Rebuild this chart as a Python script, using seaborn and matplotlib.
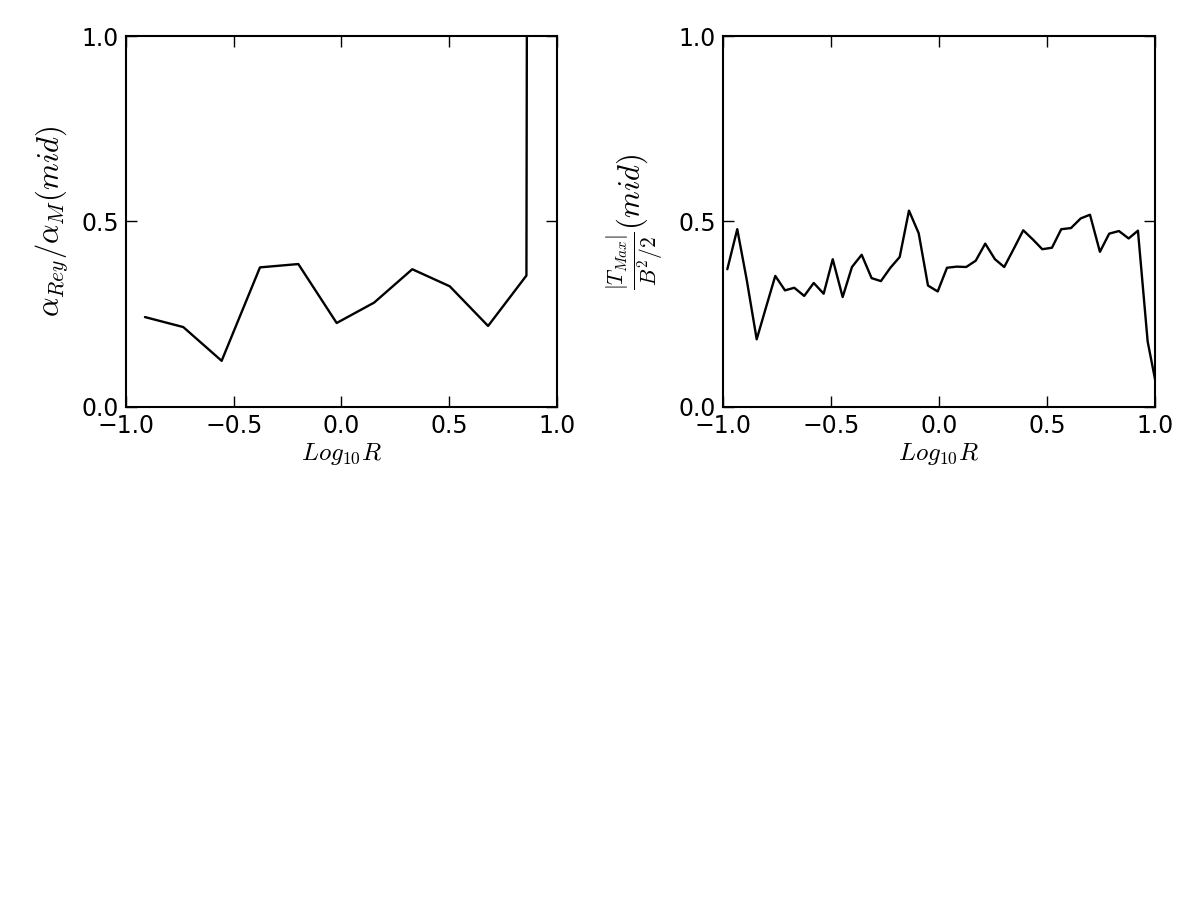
import matplotlib
matplotlib.use("Agg")
import matplotlib.pyplot as plt
import seaborn as sns
import pandas as pd

# Left panel: alpha_Rey / alpha_M (mid)
left_x = [-0.912, -0.734, -0.556, -0.378, -0.200, -0.022, 0.152, 0.329, 0.503, 0.681, 0.859, 1.037]
left_y = [0.242, 0.215, 0.124, 0.376, 0.385, 0.226, 0.281, 0.371, 0.325, 0.218, 0.354, 60.0]

# Right panel: |T_Max| / (B^2/2) (mid)
right_x = [-0.980, -0.934, -0.890, -0.844, -0.802, -0.758, -0.713, -0.670, -0.624, -0.580,
           -0.534, -0.492, -0.446, -0.403, -0.358, -0.312, -0.269, -0.225, -0.182, -0.139,
           -0.094, -0.051, -0.006, 0.037, 0.082, 0.126, 0.170, 0.214, 0.259, 0.302,
           0.346, 0.390, 0.435, 0.478, 0.523, 0.566, 0.611, 0.656, 0.699, 0.745,
           0.788, 0.833, 0.878, 0.921, 0.966, 1.010]
right_y = [0.371, 0.479, 0.342, 0.182, 0.266, 0.353, 0.314, 0.321, 0.299, 0.334,
           0.305, 0.398, 0.296, 0.377, 0.410, 0.347, 0.339, 0.375, 0.404, 0.529,
           0.468, 0.327, 0.311, 0.375, 0.378, 0.377, 0.394, 0.440, 0.398, 0.377,
           0.426, 0.476, 0.451, 0.425, 0.429, 0.479, 0.482, 0.508, 0.518, 0.418,
           0.467, 0.474, 0.454, 0.475, 0.176, 0.045]

x_ticks = [-1.0, -0.5, 0.0, 0.5, 1.0]
y_ticks = [0.0, 0.5, 1.0]
x_label = r"$Log_{10}R$"
left_ylabel = r"$\alpha_{Rey}/\alpha_M(mid)$"
right_ylabel = r"$\frac{|T_{Max}|}{B^2/2}(mid)$"

sns.set_style("ticks")
plt.rcParams["mathtext.fontset"] = "cm"
plt.rcParams["font.family"] = ["DejaVu Sans"]
plt.rcParams["text.color"] = "black"
plt.rcParams["axes.labelcolor"] = "black"
plt.rcParams["xtick.color"] = "black"
plt.rcParams["ytick.color"] = "black"

fig = plt.figure(figsize=(12, 9), dpi=100)
ax1 = fig.add_axes([0.105, 0.548, 0.359, 0.412])
ax2 = fig.add_axes([0.6025, 0.548, 0.36, 0.412])

df1 = pd.DataFrame({"x": left_x, "y": left_y})
df2 = pd.DataFrame({"x": right_x, "y": right_y})

sns.lineplot(data=df1, x="x", y="y", ax=ax1, color="black", linewidth=1.7, estimator=None)
sns.lineplot(data=df2, x="x", y="y", ax=ax2, color="black", linewidth=1.7, estimator=None)

for ax, yl, ysize, lp in [(ax1, left_ylabel, 22, 8), (ax2, right_ylabel, 22, 8)]:
    ax.set_xlim(-1.0, 1.0)
    ax.set_ylim(0.0, 1.0)
    ax.set_xticks(x_ticks)
    ax.set_yticks(y_ticks)
    ax.set_xticklabels([f"{t:.1f}".replace("-", "\u2212") for t in x_ticks])
    ax.set_yticklabels([f"{t:.1f}" for t in y_ticks])
    ax.tick_params(direction="in", length=8, width=1, top=True, right=True,
                   labelsize=17, color="black", labelcolor="black", pad=5)
    for s in ax.spines.values():
        s.set_visible(True)
        s.set_linewidth(1.5)
        s.set_color("black")
    ax.set_xlabel(x_label, fontsize=18, labelpad=2, color="black")
    ax.set_ylabel(yl, fontsize=ysize, labelpad=lp, color="black")
    ax.grid(False)

fig.savefig("out.png", dpi=100, facecolor="white")
